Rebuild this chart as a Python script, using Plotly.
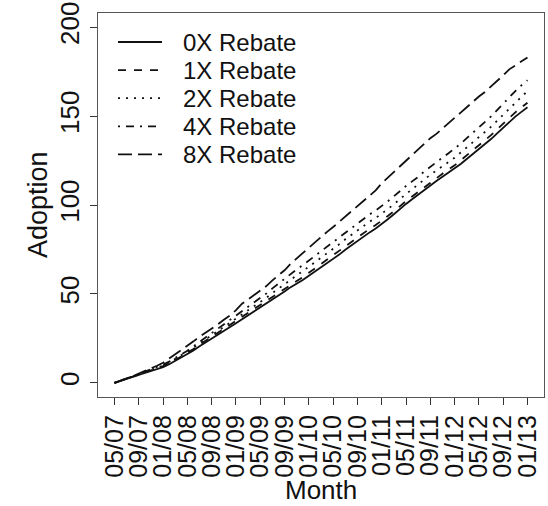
import plotly.graph_objects as go

tick_labels = ["05/07", "09/07", "01/08", "05/08", "09/08", "01/09", "05/09", "09/09",
               "01/10", "05/10", "09/10", "01/11", "05/11", "09/11", "01/12", "05/12",
               "09/12", "01/13"]
tick_months = [0, 4, 8, 12, 16, 20, 24, 28, 32, 36, 40, 44, 48, 52, 56, 60, 64, 68]
y_ticks = [0, 50, 100, 150, 200]

series_names = ["0X Rebate", "1X Rebate", "2X Rebate", "4X Rebate", "8X Rebate"]

rebate_0x = [0, 1.0, 2.0, 3.2, 4.4, 5.5, 6.5, 7.6, 8.8, 10.4, 12.3, 14.1, 16.0, 18.2, 20.5, 22.6,
             24.8, 27.0, 29.3, 31.2, 33.5, 35.8, 38.0, 40.2, 42.0, 44.3, 46.8, 49.0, 51.3, 53.8,
             55.6, 57.8, 60.2, 62.5, 65.0, 67.3, 69.6, 72.1, 74.8, 77.3, 79.9, 82.5, 84.6, 86.8,
             89.2, 92.0, 94.8, 97.9, 100.6, 103.2, 105.8, 108.7, 111.3, 113.5, 115.9, 118.2,
             120.4, 123.1, 125.9, 128.7, 131.4, 134.0, 137.1, 140.3, 143.6, 146.8, 149.7, 152.4,
             155.0]
rebate_1x = [0, 1.1, 2.2, 3.4, 4.7, 5.8, 6.9, 8.1, 9.4, 11.0, 12.9, 14.8, 16.8, 19.0, 21.4, 23.6,
             25.8, 28.1, 30.4, 32.4, 34.6, 37.0, 39.3, 41.5, 43.4, 45.8, 48.3, 50.6, 52.9, 55.4,
             57.2, 59.4, 61.9, 64.2, 66.8, 69.2, 71.5, 74.0, 76.8, 79.3, 81.9, 84.5, 86.6, 88.7,
             91.0, 93.8, 96.5, 99.5, 102.2, 104.8, 107.4, 110.3, 112.9, 115.1, 117.6, 120.0,
             122.3, 125.1, 127.9, 130.7, 133.5, 136.1, 139.3, 142.6, 145.9, 149.1, 152.1, 154.9,
             157.5]
rebate_2x = [0, 1.1, 2.3, 3.5, 4.8, 6.0, 7.2, 8.4, 9.7, 11.4, 13.4, 15.3, 17.4, 19.7, 22.1, 24.4,
             26.8, 29.1, 31.6, 33.6, 36.0, 38.5, 40.9, 43.3, 45.3, 47.8, 50.5, 52.9, 55.4, 58.2,
             60.6, 62.9, 65.4, 67.8, 70.4, 72.8, 75.3, 77.9, 80.7, 83.3, 85.9, 88.5, 90.6, 92.7,
             95.0, 97.7, 100.4, 103.5, 106.2, 108.8, 111.3, 114.3, 117.0, 119.3, 121.8, 124.2,
             126.6, 129.5, 132.3, 135.2, 137.9, 140.7, 144.0, 147.4, 150.9, 154.3, 157.5, 160.8,
             164.0]
rebate_4x = [0, 1.1, 2.4, 3.7, 5.0, 6.3, 7.5, 8.8, 10.2, 11.9, 13.8, 15.9, 18.0, 20.5, 23.0, 25.4,
             27.8, 30.2, 32.8, 35.0, 37.5, 40.2, 42.8, 45.3, 47.5, 50.2, 53.1, 55.8, 58.6, 61.5,
             63.8, 66.2, 68.8, 71.3, 74.0, 76.5, 79.0, 81.7, 84.6, 87.2, 89.9, 92.5, 94.7, 96.9,
             99.3, 102.1, 104.9, 108.0, 110.7, 113.3, 115.8, 118.9, 121.6, 124.0, 126.6, 129.1,
             131.6, 134.5, 137.6, 140.6, 143.4, 146.4, 149.8, 153.4, 157.1, 160.7, 164.1, 167.3,
             170.2]
rebate_8x = [0, 1.1, 2.3, 3.6, 5.2, 6.6, 8.0, 9.6, 11.3, 13.6, 16.3, 18.5, 20.8, 23.3, 25.9, 28.1,
             30.3, 32.8, 35.5, 37.8, 40.9, 44.5, 46.9, 49.3, 51.5, 54.4, 57.6, 60.3, 63.3, 67.0,
             70.0, 73.2, 76.4, 79.2, 82.2, 84.9, 87.6, 90.6, 93.4, 96.3, 99.4, 102.6, 105.3, 108.2,
             112.2, 115.4, 118.6, 122.1, 125.3, 128.2, 131.3, 134.6, 137.6, 140.0, 143.1, 146.3,
             148.9, 152.0, 155.0, 158.2, 161.0, 163.6, 166.6, 169.7, 172.9, 176.3, 178.4, 180.9,
             183.0]

series_values = [rebate_0x, rebate_1x, rebate_2x, rebate_4x, rebate_8x]
dash_styles = ["solid", "8px,8px", "2px,6px", "2px,6px,8px,6px", "14px,6px"]

FONT = "Liberation Sans, Arial, Helvetica, sans-serif"
INK = "#111111"

W, H = 548, 506
# plot box in window pixels: left 98, right 544, top 13, bottom 397
ML, MT = 98, 13
MR = W - 544
MB = H - 397
PW, PH = W - ML - MR, H - MT - MB


def px_x(p):
    """window pixel x -> paper coordinate"""
    return (p - ML) / PW


def px_y(p):
    """window pixel y -> paper coordinate"""
    return (H - MB - p) / PH


fig = go.Figure()
for name, vals, dash in zip(series_names, series_values, dash_styles):
    fig.add_trace(go.Scatter(
        x=list(range(len(vals))), y=vals, name=name, mode="lines",
        line=dict(color=INK, width=1.8, dash=dash), showlegend=False,
    ))

# Legend (R-style, drawn as shapes + text)
LEG_X0, LEG_X1, LEG_TX, LEG_Y0, LEG_DY = 118, 162, 181, 42, 28.1
shapes = []
annotations = []
for i, (name, dash) in enumerate(zip(series_names, dash_styles)):
    yy = px_y(LEG_Y0 + i * LEG_DY)
    shapes.append(dict(type="line", xref="paper", yref="paper",
                       x0=px_x(LEG_X0), x1=px_x(LEG_X1), y0=yy, y1=yy,
                       line=dict(color=INK, width=1.8, dash=dash)))
    annotations.append(dict(text=name, xref="paper", yref="paper", x=px_x(LEG_TX), y=yy,
                            xanchor="left", yanchor="middle", showarrow=False,
                            font=dict(size=24, family=FONT, color=INK)))

annotations.append(dict(text="Month", xref="paper", yref="paper", x=0.5, y=px_y(506),
                        xanchor="center", yanchor="bottom", showarrow=False,
                        borderpad=0, font=dict(size=26, family=FONT, color=INK)))
annotations.append(dict(text="Adoption", xref="paper", yref="paper", x=px_x(38), y=0.5,
                        xanchor="center", yanchor="middle", showarrow=False, textangle=-90,
                        font=dict(size=27, family=FONT, color=INK)))

fig.update_layout(
    width=W, height=H,
    margin=dict(l=ML, r=MR, t=MT, b=MB, autoexpand=False),
    paper_bgcolor="white", plot_bgcolor="white",
    font=dict(family=FONT, color=INK),
    showlegend=False, hovermode=False,
    shapes=shapes, annotations=annotations,
)

fig.update_xaxes(
    range=[-2.72, 70.72], tickmode="array", tickvals=tick_months, ticktext=tick_labels,
    tickangle=-90, tickfont=dict(size=25, family=FONT, color=INK),
    ticks="outside", ticklen=7, tickwidth=1, tickcolor="#333333",
    showline=True, linecolor="#555555", linewidth=1.2, mirror=True,
    showgrid=False, zeroline=False, automargin=False, ticklabeloverflow="allow",
)
fig.update_yaxes(
    range=[-8, 208], tickmode="array", tickvals=y_ticks,
    tickangle=-90, tickfont=dict(size=26, family=FONT, color=INK),
    ticks="outside", ticklen=7, tickwidth=1, tickcolor="#333333",
    showline=True, linecolor="#555555", linewidth=1.2, mirror=True,
    showgrid=False, zeroline=False, automargin=False, ticklabeloverflow="allow",
)

fig.write_html("out.html", config={"displayModeBar": False, "staticPlot": True},
               post_script="document.body.style.margin='0px';document.body.style.overflow='hidden';")
